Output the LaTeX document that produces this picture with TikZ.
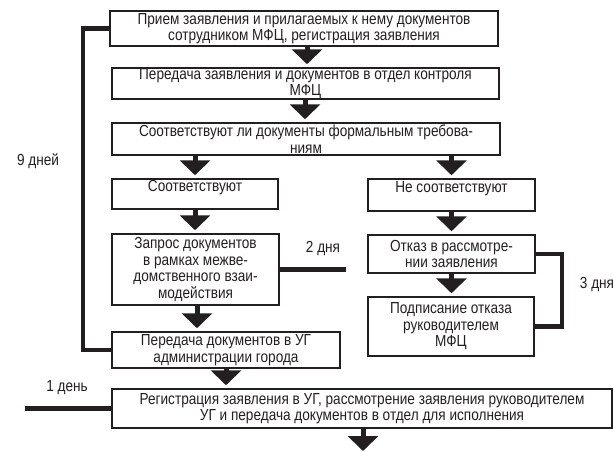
\documentclass[tikz,border=0pt]{standalone}
\usepackage{fontspec}
\setmainfont{Liberation Sans}[FakeStretch=0.85]
\usetikzlibrary{arrows.meta}
\definecolor{ink}{HTML}{231F20}
\begin{document}
\begin{tikzpicture}[x=1pt,y=-1pt,
  every node/.style={font=\fontsize{16}{16.5}\selectfont, text=ink},
  box/.style={draw=ink, line width=2.5pt, rectangle, inner sep=0pt, align=center},
  flow/.style={draw=ink, line width=5pt, shorten >=2.5pt, -{Triangle[width=30pt,length=15pt]}},
  brk/.style={draw=ink, line width=4.5pt},
  lbl/.style={inner sep=0pt}]
\useasboundingbox (0,0) rectangle (614,451);
\node[box, minimum width=388pt, minimum height=35pt] (b1) at (304,28.5)
  {Прием заявления и прилагаемых к нему документов\\сотрудником МФЦ, регистрация заявления};
\node[box, minimum width=387pt, minimum height=31pt] (b2) at (305.5,83.5)
  {Передача заявления и документов в отдел контроля\\МФЦ};
\node[box, minimum width=388pt, minimum height=32pt] (b3) at (306,139)
  {Соответствуют ли документы формальным требова-\\ниям};
\node[box, minimum width=166pt, minimum height=30pt] (b4) at (195,194)
  {Соответствуют\\\mbox{}};
\node[box, minimum width=167pt, minimum height=32pt] (b5) at (451.5,195)
  {Не соответствуют\\\mbox{}};
\node[box, minimum width=167pt, minimum height=71pt] (b6) at (195.5,269.5)
  {Запрос документов\\в рамках меж\-ве-\\домственного взаи-\\модействия};
\node[box, minimum width=167pt, minimum height=38pt] (b7) at (451.5,254)
  {Отказ в рассмотре-\\нии заявления};
\node[box, minimum width=166pt, minimum height=59pt] (b8) at (451,326.5)
  {Подписание отказа\\руководителем\\МФЦ};
\node[box, minimum width=228pt, minimum height=36pt] (b9) at (226,350)
  {Передача документов в УГ\\администрации города};
\node[box, minimum width=500pt, minimum height=39pt] (b10) at (362,408.5)
  {Регистрация заявления в УГ, рассмотрение заявления руководителем\\УГ и передача документов в отдел для исполнения};

\node[lbl] (l9) at (38,161) {9 дней};
\node[lbl] (l2) at (323,249) {2 дня};
\node[lbl] (l3) at (597,285) {3 дня};
\node[lbl] (l1) at (67,388) {1 день};

\coordinate (L) at (83,0);
\coordinate (R) at (562,0);
\coordinate (e2) at (346,269.5);
\coordinate (e1) at (25,408.5);
\coordinate (out) at (363,451);
\coordinate (a1) at (307,0);
\coordinate (a2) at (305,0);
\coordinate (a6) at (197,0);

\draw[flow] (b1.south -| a1) -- (b2.north -| a1);
\draw[flow] (b2.south -| a2) -- (b3.north -| a2);
\draw[flow] (b3.south -| b4.north) -- (b4.north);
\draw[flow] (b3.south -| b5.north) -- (b5.north);
\draw[flow] (b4.south) -- (b4.south |- b6.north);
\draw[flow] (b5.south) -- (b5.south |- b7.north);
\draw[flow] (b7.south) -- (b7.south |- b8.north);
\draw[flow] (b6.south -| a6) -- (b9.north -| a6);
\draw[flow] (b9.south) -- (b9.south |- b10.north);
\draw[flow, shorten >=0pt] (b10.south -| out) -- (out);

\draw[brk] (b1.west) -- (b1.west -| L) -- (b9.west -| L) -- (b9.west);
\draw[brk] (b7.east) -- (b7.east -| R) -- (b8.east -| R) -- (b8.east);
\draw[brk] (b6.east) -- (e2);
\draw[brk] (b10.west) -- (e1);
\end{tikzpicture}
\end{document}
